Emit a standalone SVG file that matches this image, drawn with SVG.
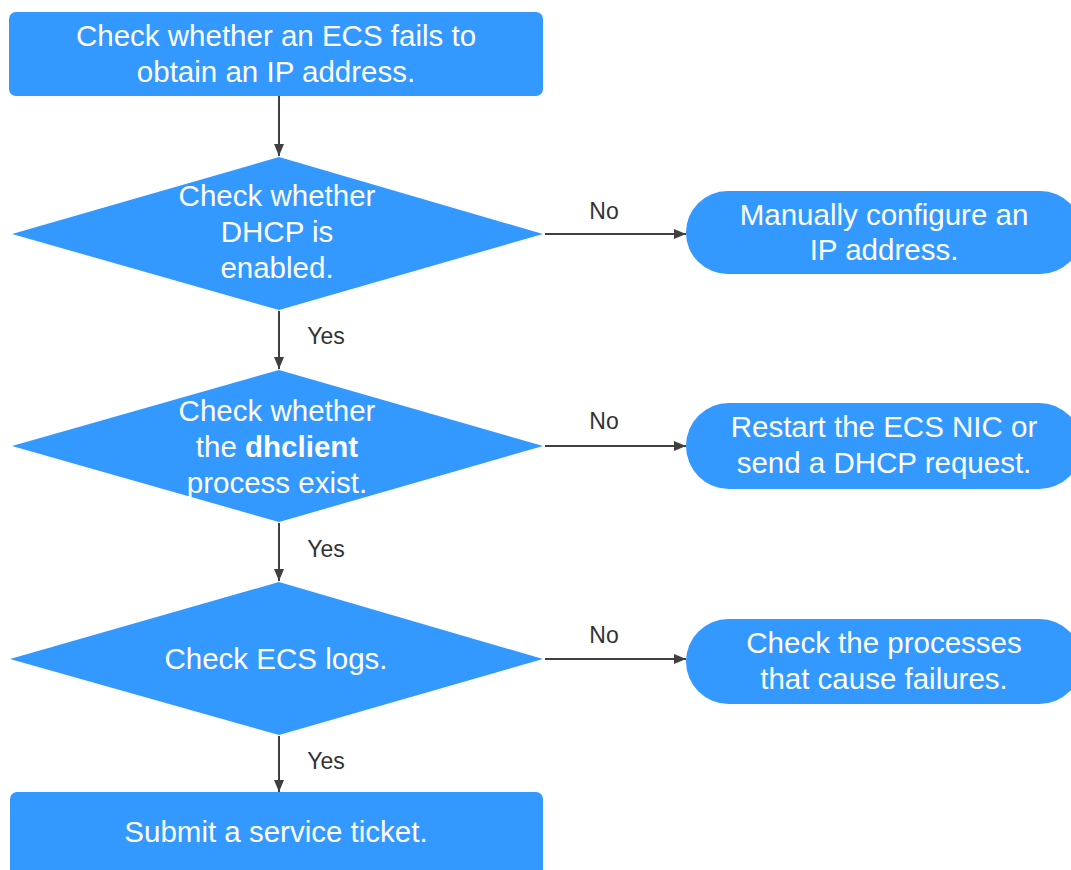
<svg xmlns="http://www.w3.org/2000/svg" width="1071" height="870" viewBox="0 0 1071 870">
<style>
.n{fill:#3399ff;}
.t{font-family:"Liberation Sans",Arial,sans-serif;font-size:29.5px;fill:#ffffff;text-anchor:middle;}
.l{font-family:"Liberation Sans",Arial,sans-serif;font-size:23px;fill:#333333;text-anchor:middle;}
.c{stroke:#404040;stroke-width:2;fill:none;marker-end:url(#ah);}
</style>
<defs>
<marker id="ah" viewBox="0 0 12 10" refX="12" refY="5" markerWidth="12" markerHeight="10" markerUnits="userSpaceOnUse" orient="auto">
<path d="M0,0 L12,5 L0,10 Z" fill="#404040"/>
</marker>
</defs>
<rect width="1071" height="870" fill="#ffffff"/>
<g id="connectors">
<line class="c" x1="279" y1="96" x2="279" y2="156"/>
<line class="c" x1="545" y1="234" x2="686" y2="234"/>
<line class="c" x1="279" y1="311" x2="279" y2="369"/>
<line class="c" x1="545" y1="446" x2="686" y2="446"/>
<line class="c" x1="279" y1="523" x2="279" y2="581"/>
<line class="c" x1="545" y1="659" x2="686" y2="659"/>
<line class="c" x1="279" y1="736" x2="279" y2="792"/>
<text class="l" x="604" y="219">No</text>
<text class="l" x="326" y="344">Yes</text>
<text class="l" x="604" y="429">No</text>
<text class="l" x="326" y="557">Yes</text>
<text class="l" x="604" y="643">No</text>
<text class="l" x="326" y="769">Yes</text>
</g>
<g id="start">
<rect class="n" x="9" y="12" width="534" height="84" rx="7"/>
<text class="t" x="276" y="46">Check whether an ECS fails to</text>
<text class="t" x="276" y="82">obtain an IP address.</text>
</g>
<g id="d1">
<polygon class="n" points="279,157 543,234 279,310 12,234"/>
<text class="t" x="277" y="206">Check whether</text>
<text class="t" x="277" y="242">DHCP is</text>
<text class="t" x="277" y="278">enabled.</text>
</g>
<g id="r1">
<rect class="n" x="686" y="191" width="396" height="83" rx="41.5"/>
<text class="t" x="884" y="225">Manually configure an</text>
<text class="t" x="884" y="260">IP address.</text>
</g>
<g id="d2">
<polygon class="n" points="279,370 543,446 279,522 12,446"/>
<text class="t" x="277" y="421">Check whether</text>
<text class="t" x="277" y="457">the <tspan font-weight="bold">dhclient</tspan></text>
<text class="t" x="277" y="493">process exist.</text>
</g>
<g id="r2">
<rect class="n" x="686" y="403" width="396" height="86" rx="43"/>
<text class="t" x="884" y="437">Restart the ECS NIC or</text>
<text class="t" x="884" y="473">send a DHCP request.</text>
</g>
<g id="d3">
<polygon class="n" points="279,582 543,659 279,735 10,659"/>
<text class="t" x="276" y="669">Check ECS logs.</text>
</g>
<g id="r3">
<rect class="n" x="686" y="619" width="396" height="85" rx="42.5"/>
<text class="t" x="884" y="653">Check the processes</text>
<text class="t" x="884" y="689">that cause failures.</text>
</g>
<g id="end">
<rect class="n" x="10" y="792" width="533" height="90" rx="7"/>
<text class="t" x="276" y="842">Submit a service ticket.</text>
</g>
</svg>
